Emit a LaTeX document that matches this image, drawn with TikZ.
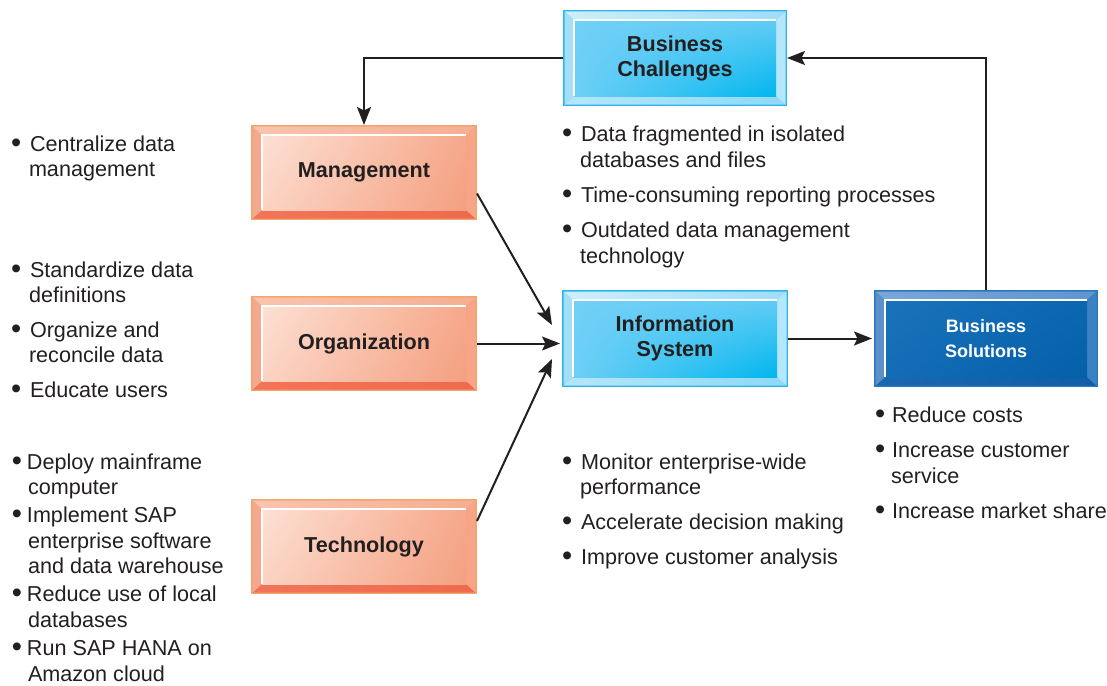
\documentclass[tikz,border=0pt]{standalone}
\usepackage{fontspec}
\setmainfont{Liberation Sans}
\usetikzlibrary{arrows.meta,calc,shadings}
% salmon palette
\definecolor{saedge}{HTML}{F3A56E}
\definecolor{satopa}{HTML}{F9C4AE}
\definecolor{satopb}{HTML}{F5AE92}
\definecolor{saleft}{HTML}{F5A88D}
\definecolor{saright}{HTML}{F7A487}
\definecolor{sabota}{HTML}{F27458}
\definecolor{sabotb}{HTML}{EF6A4C}
\definecolor{safacea}{HTML}{FDE0D4}
\definecolor{safaceb}{HTML}{F6A98B}
\definecolor{safacec}{HTML}{FBD3C3}
\definecolor{safaced}{HTML}{F4A080}
% light blue palette
\definecolor{lbedge}{HTML}{2BB5EA}
\definecolor{lbtopa}{HTML}{CDEEFC}
\definecolor{lbtopb}{HTML}{9FDCF7}
\definecolor{lbleft}{HTML}{A3E0F8}
\definecolor{lbright}{HTML}{B5E7FA}
\definecolor{lbbota}{HTML}{B4E6FA}
\definecolor{lbbotb}{HTML}{8ED9F7}
\definecolor{lbfacea}{HTML}{72D0F6}
\definecolor{lbfaceb}{HTML}{62CCF5}
\definecolor{lbfacec}{HTML}{6DCFF6}
\definecolor{lbfaced}{HTML}{00B6EE}
% dark blue palette
\definecolor{dbedge}{HTML}{2A78BF}
\definecolor{dbtopa}{HTML}{7AA7D8}
\definecolor{dbtopb}{HTML}{5F95CF}
\definecolor{dbleft}{HTML}{5A91CB}
\definecolor{dbright}{HTML}{3B82C4}
\definecolor{dbbota}{HTML}{1B67B0}
\definecolor{dbbotb}{HTML}{0F5EA8}
\definecolor{dbfacea}{HTML}{1A73BA}
\definecolor{dbfaceb}{HTML}{0C66B0}
\definecolor{dbfacec}{HTML}{136CB5}
\definecolor{dbfaced}{HTML}{0560A9}
\definecolor{textcol}{HTML}{231F20}
\newcommand\bevbox[7]{%
  \fill[#6edge] (#2,#3) rectangle (#4,#5);
  \shade[left color=#6topa, right color=#6topb] ({#2+1.5},{#3+1.5}) -- ({#4-1.5},{#3+1.5}) -- ({#4-11},{#3+10}) -- ({#2+11},{#3+10}) -- cycle;
  \shade[left color=#6bota, right color=#6botb] ({#2+1.5},{#5-1.5}) -- ({#4-1.5},{#5-1.5}) -- ({#4-11},{#5-10}) -- ({#2+11},{#5-10}) -- cycle;
  \fill[#6left] ({#2+1.5},{#3+1.5}) -- ({#2+11},{#3+10}) -- ({#2+11},{#5-10}) -- ({#2+1.5},{#5-1.5}) -- cycle;
  \fill[#6right] ({#4-1.5},{#3+1.5}) -- ({#4-11},{#3+10}) -- ({#4-11},{#5-10}) -- ({#4-1.5},{#5-1.5}) -- cycle;
  \shade[upper left=#6facea, upper right=#6faceb, lower left=#6facec, lower right=#6faced] ({#2+11},{#3+10}) rectangle ({#4-11},{#5-10});
  \draw[white, line width=1.2pt] ({#2+11},{#5-10}) -- ({#2+11},{#3+10}) -- ({#4-11},{#3+10});
  \node[boxlabel, minimum width={#4-#2}, minimum height={#5-#3}] (#1) at ({(#2+#4)/2},{(#3+#5)/2}) {#7};
}
\newcommand\bitem[5]{%
  \node[txt] (#1b) at (#2,#4) {\raisebox{-1.6pt}{\fontsize{29}{29}\selectfont •}};
  \node[txt] (#1) at (#3,#4) {#5};
}
\newcommand\contline[4]{\node[txt] (#1) at (#2,#3) {#4};}
\begin{document}
\begin{tikzpicture}[x=1pt,y=-1pt,
  txt/.style={anchor=base west, inner sep=0pt, outer sep=0pt, text=textcol, font=\fontsize{21.6}{25}\selectfont},
  boxlabel/.style={inner sep=0pt, outer sep=0pt, align=center, text=textcol, font=\bfseries\fontsize{21.6}{25}\selectfont},
  arr/.style={line width=2pt, draw=textcol, -{Stealth[length=18pt, width=14pt, inset=3.5pt]}}]
\useasboundingbox (0,0) rectangle (1107,685);

\bevbox{bc}{563}{10}{787}{106}{lb}{Business\\Challenges}
\bevbox{mgmt}{251}{125}{477}{220}{sa}{Management}
\bevbox{org}{251}{296}{477}{391}{sa}{Organization}
\bevbox{tech}{251}{499}{477}{594}{sa}{Technology}
\bevbox{is}{562}{290}{788}{387}{lb}{Information\\System}
\bevbox{bs}{874}{290}{1098}{387}{db}{\color{white}\fontsize{18}{24}\selectfont Business\\\color{white}\fontsize{18}{24}\selectfont Solutions}

% connectors
\draw[arr] (bc.west) -- (bc.west -| mgmt.north) -- (mgmt.north);
\draw[arr] (bs.north) |- (bc.east);
\draw[arr] ($(mgmt.east)+(0,21)$) -- ($(is.west)+(-10,-13.5)$);
\draw[arr] (org.east) -- ($(org.east -| is.west)+(-2,0)$);
\draw[arr] ($(tech.east)+(0,-25.5)$) -- ($(is.west)+(-10,20.5)$);
\draw[arr] (is.east) -- ($(bs.west)+(-2,0)$);

% left column
\bitem{l1}{11}{30}{151}{Centralize data}
\contline{l1b2}{29}{176}{management}
\bitem{l2}{11}{30}{277}{Standardize data}
\contline{l2b2}{29}{302}{definitions}
\bitem{l3}{11}{30}{337}{Organize and}
\contline{l3b2}{29}{362}{reconcile data}
\bitem{l4}{11}{30}{397}{Educate users}
\bitem{t1}{12}{27}{469}{Deploy mainframe}
\contline{t1b2}{28}{494}{computer}
\bitem{t2}{12}{27}{522}{Implement SAP}
\contline{t2b2}{28}{548}{enterprise software}
\contline{t2b3}{28}{573}{and data warehouse}
\bitem{t3}{12}{27}{601}{Reduce use of local}
\contline{t3b2}{28}{627}{databases}
\bitem{t4}{12}{27}{655}{Run SAP HANA on}
\contline{t4b2}{28}{681}{Amazon cloud}

% middle column
\bitem{c1}{562}{581}{141}{Data fragmented in isolated}
\contline{c1b2}{580}{167}{databases and files}
\bitem{c2}{562}{581}{202}{Time-consuming reporting processes}
\bitem{c3}{562}{581}{237}{Outdated data management}
\contline{c3b2}{580}{263}{technology}
\bitem{s1}{562}{581}{469}{Monitor enterprise-wide}
\contline{s1b2}{580}{494}{performance}
\bitem{s2}{562}{581}{529}{Accelerate decision making}
\bitem{s3}{562}{581}{564}{Improve customer analysis}

% right column
\bitem{r1}{875}{892}{422}{Reduce costs}
\bitem{r2}{875}{892}{457}{Increase customer}
\contline{r2b2}{891}{483}{service}
\bitem{r3}{875}{892}{518}{Increase market share}
\end{tikzpicture}
\end{document}
